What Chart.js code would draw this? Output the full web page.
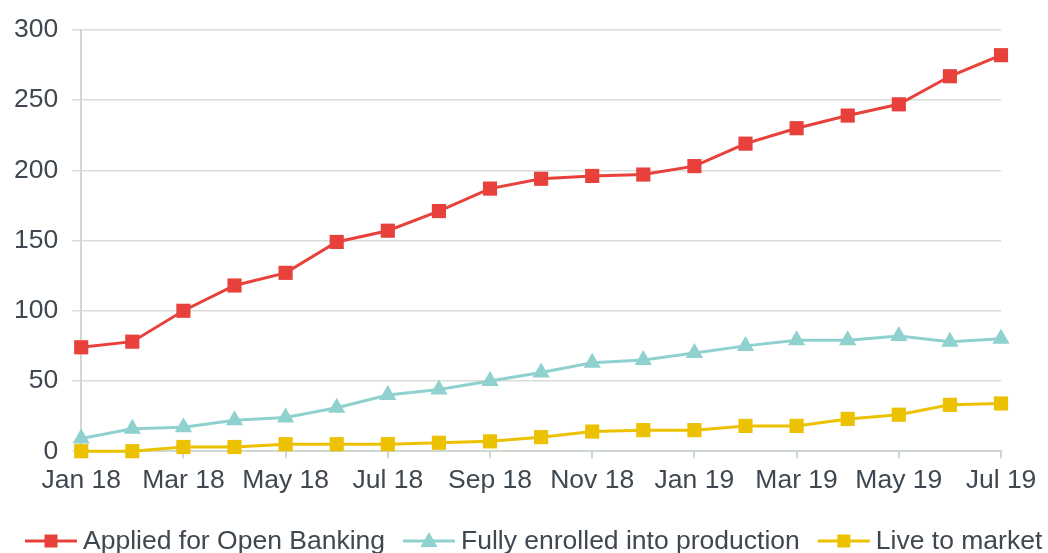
<!DOCTYPE html>
<html>
<head>
<meta charset="utf-8">
<script src="https://cdn.jsdelivr.net/npm/chart.js@4.4.1/dist/chart.umd.min.js"></script>
<style>
  html, body { margin: 0; padding: 0; background: #ffffff; }
  #wrap { width: 1048px; height: 553px; position: relative; }
</style>
</head>
<body>
<div id="wrap"><canvas id="chart"></canvas></div>
<script>
// Months on the x axis
const months = [
  'Jan 18', 'Feb 18', 'Mar 18', 'Apr 18', 'May 18', 'Jun 18', 'Jul 18', 'Aug 18', 'Sep 18', 'Oct 18',
  'Nov 18', 'Dec 18', 'Jan 19', 'Feb 19', 'Mar 19', 'Apr 19', 'May 19', 'Jun 19', 'Jul 19'
];

// Series values
const appliedForOpenBanking = [74, 78, 100, 118, 127, 149, 157, 171, 187, 194, 196, 197, 203, 219, 230, 239, 247, 267, 282];
const fullyEnrolled = [9, 16, 17, 22, 24, 31, 40, 44, 50, 56, 63, 65, 70, 75, 79, 79, 82, 78, 80];
const liveToMarket = [0, 0, 3, 3, 5, 5, 5, 6, 7, 10, 14, 15, 15, 18, 18, 23, 26, 33, 34];

const seriesNames = ['Applied for Open Banking', 'Fully enrolled into production', 'Live to market'];
const yTicks = [0, 50, 100, 150, 200, 250, 300];

const RED = '#e8403a';
const TEAL = '#8fd1cf';
const YELLOW = '#ecc100';
const TEXT = '#3f4850';
const GRID = '#d9ddd9';
const AXIS = '#cfd8cf';
const FONT = '"Liberation Sans", Arial, sans-serif';
const FONT_SIZE = 26.5;

const colors = [RED, TEAL, YELLOW];
const styles = ['rect', 'triangle', 'rect'];

/**
 * Bottom legend: short line with the marker in its middle, then the label
 */
const lineLegend = {
  id: 'lineLegend',
  afterDraw(chart) {
    const g = chart.ctx;
    const lineLen = 52;
    const textGap = 6;
    const itemGap = 18;
    const cy = 541;
    let x = 25;
    g.save();
    g.font = FONT_SIZE + 'px ' + FONT;
    g.textBaseline = 'middle';
    g.textAlign = 'left';
    chart.data.datasets.forEach((ds, i) => {
      g.strokeStyle = colors[i];
      g.fillStyle = colors[i];
      g.lineWidth = 3;
      g.beginPath();
      g.moveTo(x, cy);
      g.lineTo(x + lineLen, cy);
      g.stroke();
      const mx = x + lineLen / 2;
      if (styles[i] === 'triangle') {
        g.beginPath();
        g.moveTo(mx, cy - 9);
        g.lineTo(mx + 8.5, cy + 6);
        g.lineTo(mx - 8.5, cy + 6);
        g.closePath();
        g.fill();
      } else {
        g.fillRect(mx - 6.5, cy - 6.5, 13, 13);
      }
      g.fillStyle = TEXT;
      g.fillText(ds.label, x + lineLen + textGap, cy + 1);
      x += lineLen + textGap + g.measureText(ds.label).width + itemGap;
    });
    g.restore();
  }
};

function makeDataset(i, values, order) {
  return {
    label: seriesNames[i],
    data: values,
    borderColor: colors[i],
    backgroundColor: colors[i],
    borderWidth: 3,
    pointStyle: styles[i],
    pointRadius: 10,
    pointHoverRadius: 10,
    pointBorderWidth: 0,
    pointBackgroundColor: colors[i],
    tension: 0,
    fill: false,
    clip: false,
    order: order
  };
}

const ctx = document.getElementById('chart').getContext('2d');
new Chart(ctx, {
  type: 'line',
  data: {
    labels: months,
    datasets: [
      makeDataset(0, appliedForOpenBanking, 3),
      makeDataset(1, fullyEnrolled, 2),
      makeDataset(2, liveToMarket, 1)
    ]
  },
  plugins: [lineLegend],
  options: {
    responsive: true,
    maintainAspectRatio: false,
    animation: false,
    layout: { padding: { top: 16, left: 0, right: 47, bottom: 49 } },
    plugins: {
      tooltip: { enabled: false },
      legend: { display: false }
    },
    scales: {
      x: {
        type: 'category',
        offset: false,
        border: { display: true, color: AXIS, width: 2 },
        grid: {
          drawOnChartArea: false,
          drawTicks: true,
          tickLength: 7,
          lineWidth: 2,
          color: c => (c.index % 2 === 0 ? AXIS : 'rgba(0,0,0,0)')
        },
        ticks: {
          autoSkip: false,
          maxRotation: 0,
          padding: 7,
          color: TEXT,
          font: { family: FONT, size: FONT_SIZE },
          callback: (v, i) => (i % 2 === 0 ? months[i] : '')
        }
      },
      y: {
        min: 0,
        max: 300,
        afterBuildTicks: axis => { axis.ticks = yTicks.map(v => ({ value: v })); },
        border: { display: true, color: AXIS, width: 2 },
        grid: {
          color: GRID,
          lineWidth: 1.5,
          tickLength: 9
        },
        ticks: {
          padding: 14,
          color: TEXT,
          font: { family: FONT, size: FONT_SIZE }
        }
      }
    }
  }
});
</script>
</body>
</html>
